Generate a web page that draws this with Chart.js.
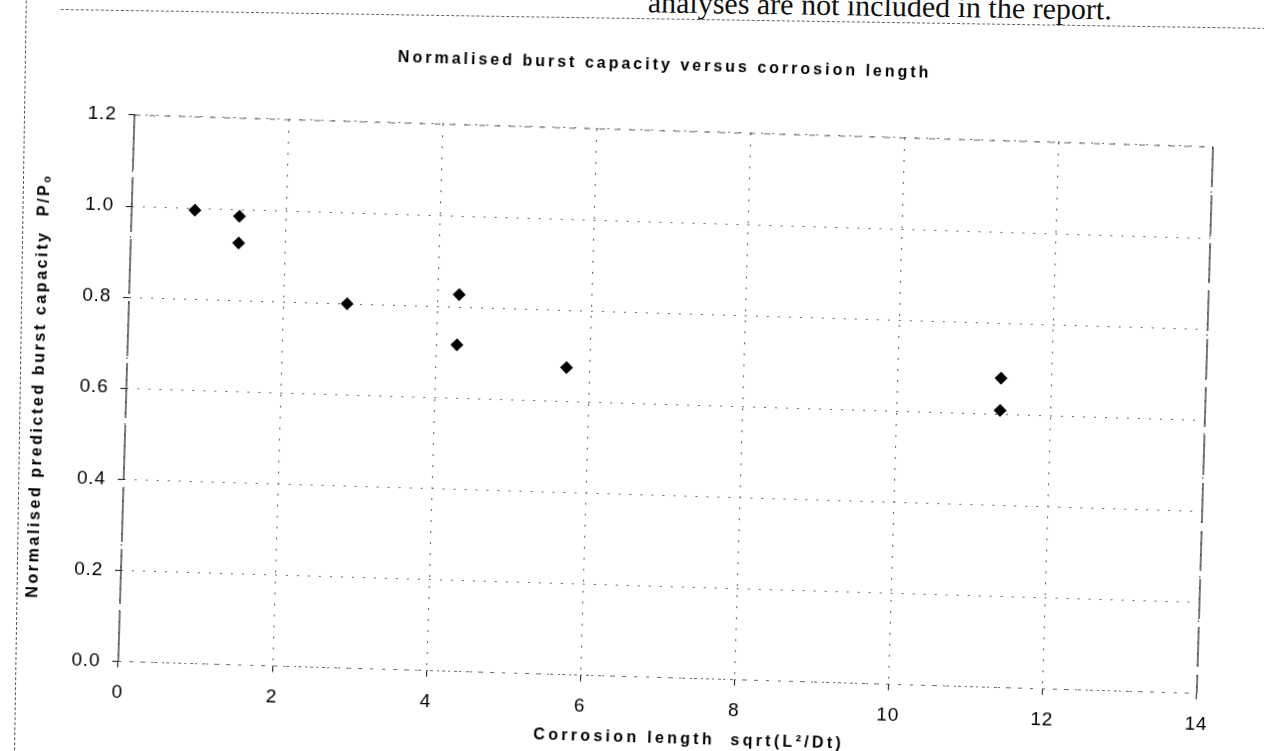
<!DOCTYPE html>
<html>
<head>
<meta charset="utf-8">
<title>Normalised burst capacity versus corrosion length</title>
<script src="https://cdn.jsdelivr.net/npm/chart.js@4.4.1/dist/chart.umd.min.js"></script>
<style>
  html, body { margin: 0; padding: 0; background: #fff; overflow: hidden; }
  body { width: 1264px; height: 751px; position: relative; }
  #sheet { position: absolute; left: 0; top: 0; width: 1264px; height: 751px; transform: rotate(0.9deg); transform-origin: 632px 375px; }
  .topRule { position: absolute; left: 55px; top: 18px; width: 1230px; border-top: 1px dashed #666; }
  .leftRule { position: absolute; left: 20px; top: -10px; height: 780px; border-left: 1px dashed #555; }
  .note { position: absolute; right: 158px; top: -13px; font-family: "Liberation Serif", "Times New Roman", serif; font-size: 30px; line-height: 30px; color: #111; white-space: nowrap; }
  #frame { position: absolute; left: 0; top: 0; width: 1264px; height: 751px; transform: rotate(1.7deg); transform-origin: 632px 375.5px; }
</style>
</head>
<body>
<div id="sheet">
  <div class="note">analyses are not included in the report.</div>
  <div class="topRule"></div>
  <div class="leftRule"></div>
</div>
<div id="frame">
  <canvas id="burstChart" width="1264" height="751"></canvas>
</div>
<script>
// values
const corrosionLength = [0.82, 1.40, 1.40, 2.83, 4.28, 4.27, 5.70, 11.34, 11.34];
const burstCapacity = [0.995, 0.985, 0.926, 0.800, 0.827, 0.717, 0.674, 0.679, 0.608];
const xTicks = [0, 2, 4, 6, 8, 10, 12, 14];
const yTicks = [0.0, 0.2, 0.4, 0.6, 0.8, 1.0, 1.2];

const points = corrosionLength.map((x, i) => ({ x: x, y: burstCapacity[i] }));

Chart.defaults.font.family = '"Liberation Sans", Arial, sans-serif';
Chart.defaults.color = '#111';

// the scanned lettering is wide: space out titles, keep tick digits tighter
function spaced(draw, px, shiftX) {
  return function () {
    const c = this.ctx;
    c.save();
    c.letterSpacing = px;
    c.translate(shiftX || 0, 0);
    draw.apply(this, arguments);
    c.restore();
  };
}

function spaceAxisTitle(scale) {
  if (scale._spaced) return;
  if (scale.axis === 'x') {
    scale.drawTitle = spaced(scale.drawTitle, '3.3px', 33);
  } else {
    scale.drawTitle = spaced(scale.drawTitle, '2.6px', 0);
  }
  scale._spaced = true;
}

const wideText = {
  id: 'wideText',
  afterInit(chart) {
    chart.titleBlock.draw = spaced(chart.titleBlock.draw, '3px', -11);
  },
  beforeLayout(chart) { chart.ctx.letterSpacing = '0.8px'; },
  beforeDraw(chart) { chart.ctx.letterSpacing = '0.8px'; }
};

// plot frame: dark left axis, faint dotted base, dashed top and right
const plotFrame = {
  id: 'plotFrame',
  beforeDatasetsDraw(chart) {
    const { ctx, chartArea: a } = chart;
    const edge = (x1, y1, x2, y2, color, dash, w) => {
      ctx.strokeStyle = color;
      ctx.lineWidth = w;
      ctx.setLineDash(dash);
      ctx.beginPath();
      ctx.moveTo(x1, y1);
      ctx.lineTo(x2, y2);
      ctx.stroke();
    };
    ctx.save();
    edge(a.left, a.bottom, a.right, a.bottom, '#666', [3, 9], 1.2);
    edge(a.left, a.top, a.right, a.top, '#666', [6, 9], 1.2);
    edge(a.right, a.top, a.right, a.bottom, '#333', [40, 8], 1.3);
    edge(a.left, a.top, a.left, a.bottom, '#333', [55, 7], 1.3);
    ctx.restore();
  }
};

const ctx = document.getElementById('burstChart').getContext('2d');

new Chart(ctx, {
  type: 'scatter',
  data: {
    datasets: [{
      label: 'Burst capacity',
      data: points,
      pointStyle: 'rectRot',
      pointRadius: 6.5,
      pointHoverRadius: 6.5,
      backgroundColor: '#000',
      borderColor: '#000',
      borderWidth: 0
    }]
  },
  options: {
    responsive: false,
    animation: false,
    devicePixelRatio: 1,
    layout: { padding: { left: 0, right: 58, top: 0, bottom: 0 } },
    plugins: {
      legend: { display: false },
      tooltip: { enabled: false },
      title: {
        display: true,
        fullSize: false,
        text: 'Normalised burst capacity versus corrosion length',
        color: '#000',
        font: { size: 16, weight: 'bold' },
        padding: { top: 55.4, bottom: 55.4 }
      }
    },
    scales: {
      x: {
        type: 'linear',
        min: 0,
        max: 14,
        afterBuildTicks: s => { s.ticks = xTicks.map(v => ({ value: v })); },
        afterFit: s => { s.height = 74.5; },
        afterUpdate: spaceAxisTitle,
        ticks: {
          color: '#000',
          font: { size: 19 },
          padding: 14,
          callback: v => String(v)
        },
        grid: {
          color: '#666',
          lineWidth: 1.1,
          tickLength: 6,
          tickColor: '#222'
        },
        border: { display: false, dash: [2, 9] },
        title: {
          display: true,
          text: 'Corrosion length  sqrt(L²/Dt)',
          color: '#000',
          font: { size: 16, weight: 'bold' },
          padding: { top: 0, bottom: 3.4 }
        }
      },
      y: {
        type: 'linear',
        min: 0,
        max: 1.2,
        afterBuildTicks: s => { s.ticks = yTicks.map(v => ({ value: v })); },
        afterFit: s => { s.width = 127; },
        afterUpdate: spaceAxisTitle,
        ticks: {
          color: '#000',
          font: { size: 19 },
          padding: 12,
          callback: v => Number(v).toFixed(1)
        },
        grid: {
          color: '#666',
          lineWidth: 1.1,
          tickLength: 6,
          tickColor: '#222'
        },
        border: { display: false, dash: [2, 9] },
        title: {
          display: true,
          text: 'Normalised predicted burst capacity  P/Pₒ',
          color: '#000',
          font: { size: 16, weight: 'bold' },
          padding: { top: 30.4, bottom: 0 }
        }
      }
    }
  },
  plugins: [wideText, plotFrame]
});
</script>
</body>
</html>
